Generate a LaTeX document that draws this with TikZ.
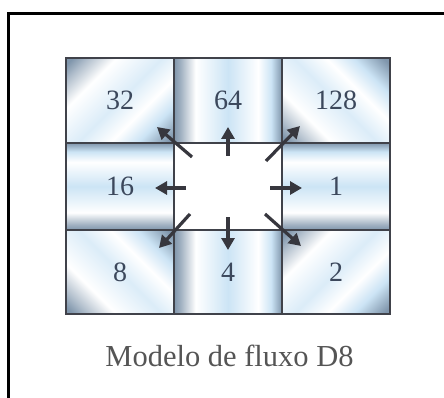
\documentclass[tikz,border=0pt]{standalone}
\usepackage{fontspec}
\setmainfont{Liberation Serif}
\usetikzlibrary{arrows.meta}
\definecolor{cg}{RGB}{128,150,172}
\definecolor{cb}{RGB}{204,228,245}
\definecolor{gridc}{RGB}{64,66,74}
\definecolor{digc}{RGB}{60,72,92}
\definecolor{capc}{RGB}{85,85,85}
\definecolor{arrc}{RGB}{55,55,62}
\pgfdeclarehorizontalshading{cyl}{100bp}{color(0bp)=(cg); color(25bp)=(cg); color(28bp)=(cg!75!white); color(35bp)=(white); color(50bp)=(cb); color(64bp)=(white); color(70bp)=(cb); color(75bp)=(cg); color(100bp)=(cg)}
\pgfdeclarehorizontalshading{cyld}{100bp}{color(0bp)=(cg); color(17bp)=(cg); color(23bp)=(cg!60!white); color(33bp)=(white); color(50bp)=(cb!70!white); color(62bp)=(white); color(72bp)=(cb); color(83bp)=(cg); color(100bp)=(cg)}
\tikzset{
  cell/.style={draw=gridc, line width=2pt, inner sep=0pt, minimum width=108pt,
    text=digc, font=\fontsize{28}{28}\selectfont},
  cylcell/.style={cell, shade, shading=cyl, shading angle=#1},
  diagcell/.style={cell, shade, shading=cyld, shading angle=#1},
  arr/.style={draw=arrc, line width=3.2pt, -{Triangle[length=12pt,width=13pt]}},
}
\begin{document}
\begin{tikzpicture}[x=1pt,y=-1pt]
\useasboundingbox (0,0) rectangle (444,398);
\clip (0,0) rectangle (444,398);
\fill[white] (0,0) rectangle (444,398);
% outer frame
\draw[line width=3pt] (8.5,420) -- (8.5,13.5) -- (460,13.5);
% cells
\node[diagcell=-45, minimum height=85pt] (c32)  at (120,100.5) {32};
\node[cylcell=0,    minimum height=85pt] (c64)  at (228,100.5) {64};
\node[diagcell=45,  minimum height=85pt] (c128) at (336,100.5) {128};
\node[cylcell=90,   minimum height=87pt] (c16)  at (120,186.5) {16};
\node[cell, fill=white, minimum height=87pt] (c0) at (228,186.5) {};
\node[cylcell=90,   minimum height=87pt] (c1)   at (336,186.5) {1};
\node[diagcell=45,  minimum height=84pt] (c8)   at (120,272) {8};
\node[cylcell=0,    minimum height=84pt] (c4)   at (228,272) {4};
\node[diagcell=-45, minimum height=84pt] (c2)   at (336,272) {2};
% arrow end points
\coordinate (nT) at (228,156); \coordinate (nH) at (228,127);
\coordinate (sT) at (228,217); \coordinate (sH) at (228,250);
\coordinate (wT) at (186,188); \coordinate (wH) at (155,188);
\coordinate (eT) at (270,188); \coordinate (eH) at (302,188);
\coordinate (nwT) at (192,157); \coordinate (nwH) at (157,127);
\coordinate (neT) at (266,161); \coordinate (neH) at (300,126);
\coordinate (swT) at (190,214); \coordinate (swH) at (159,248);
\coordinate (seT) at (265,214); \coordinate (seH) at (301,246);
\draw[arr] (nT) -- (nH);
\draw[arr] (sT) -- (sH);
\draw[arr] (wT) -- (wH);
\draw[arr] (eT) -- (eH);
\draw[arr] (nwT) -- (nwH);
\draw[arr] (neT) -- (neH);
\draw[arr] (swT) -- (swH);
\draw[arr] (seT) -- (seH);
% caption
\node[anchor=base, text=capc, font=\fontsize{30.5}{30.5}\selectfont, inner sep=0pt] (cap) at (229.5,366) {Modelo de fluxo D8};
\end{tikzpicture}
\end{document}
